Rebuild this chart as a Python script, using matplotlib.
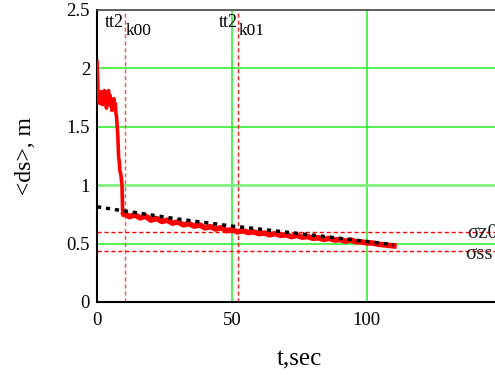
import numpy as np
import matplotlib
matplotlib.use("Agg")
import matplotlib.pyplot as plt

# measured <ds> (red), sampled every 0.25 s up to 9.75 s, then every 2 s
t_early = np.arange(0, 10, 0.25)
ds_early = [2.06, 1.88, 1.72, 1.80, 1.70, 1.78, 1.74, 1.80, 1.69, 1.78,
            1.72, 1.81, 1.70, 1.76, 1.66, 1.79, 1.71, 1.81, 1.70, 1.77,
            1.68, 1.74, 1.64, 1.72, 1.68, 1.74, 1.65, 1.70, 1.62, 1.58,
            1.50, 1.40, 1.24, 1.20, 1.12, 1.10, 1.06, 1.00, 0.76, 0.74]
t_late = np.arange(10, 111, 2)
ds_late = [0.76, 0.73, 0.745, 0.72, 0.735, 0.70, 0.715, 0.69, 0.70, 0.675,
           0.685, 0.66, 0.67, 0.65, 0.66, 0.635, 0.645, 0.625, 0.635, 0.61,
           0.62, 0.60, 0.61, 0.595, 0.60, 0.585, 0.59, 0.575, 0.585, 0.57,
           0.575, 0.56, 0.57, 0.555, 0.56, 0.545, 0.55, 0.535, 0.545, 0.53,
           0.535, 0.52, 0.53, 0.515, 0.515, 0.505, 0.505, 0.495, 0.49, 0.485,
           0.48]

# fitted trend (black dashed)
t_fit = [0, 10, 20, 30, 40, 50, 60, 70, 80, 90, 100, 110]
ds_fit = [0.815, 0.78, 0.745, 0.71, 0.68, 0.65, 0.625, 0.598, 0.572, 0.545, 0.518, 0.49]

# markers
tt2_k00 = 10.4
tt2_k01 = 52.3
sigma_z0 = 0.6
sigma_ss = 0.44

serif = "Liberation Serif"
grid_c = "#22ee22"

fig = plt.figure(figsize=(4.95, 3.75), dpi=100)
ax = fig.add_axes([0.196, 0.1947, 0.818, 0.7787])

ax.set_xlim(0, 150)
ax.set_ylim(0, 2.5)

for x in [50, 100]:
    ax.axvline(x, color=grid_c, lw=1.1, zorder=1)
for y in [0.5, 1.5, 2.0]:
    ax.axhline(y, color=grid_c, lw=1.1, zorder=1)
ax.axhline(1.0, color="#80f080", lw=2, zorder=1)

ax.axvline(tt2_k00, color="#ff5050", lw=1, ls=(0, (3, 2)), zorder=2)
ax.axvline(tt2_k01, color="#ff2020", lw=1, ls=(0, (3, 2)), zorder=2)
ax.axhline(sigma_z0, color="red", lw=1, ls=(0, (3, 2)), zorder=2)
ax.axhline(sigma_ss, color="red", lw=1, ls=(0, (3, 2)), zorder=2)

t_all = np.concatenate([t_early, t_late])
ds_all = list(ds_early) + list(ds_late)
ax.plot(t_all, ds_all, color="red", lw=2.6, zorder=3)
ax.plot(t_late, ds_late, color="red", lw=4, zorder=3)
ax.plot(t_fit, ds_fit, color="black", lw=2.5, ls=(0, (1.2, 1.4)), zorder=4)

ax.set_xticks([0, 50, 100])
ax.set_yticks([0, 0.5, 1, 1.5, 2, 2.5])
ax.set_yticklabels(["0", "0.5", "1", "1.5", "2", "2.5"])
ax.tick_params(length=0, labelsize=13.5, pad=5)
for lab in ax.get_xticklabels() + ax.get_yticklabels():
    lab.set_family(serif)
ax.tick_params(axis="x", pad=7)

for s in ["left", "bottom"]:
    ax.spines[s].set_linewidth(1.5)
    ax.spines[s].set_color("black")
ax.spines["top"].set_color("#444444")
ax.spines["top"].set_linewidth(1.2)
ax.spines["right"].set_visible(False)

ax.set_xlabel("t,sec", family=serif, fontsize=18, labelpad=14)
ax.set_ylabel("<ds>, m", family=serif, fontsize=17, labelpad=22)

for xv, sub in [(tt2_k00, "k00"), (tt2_k01, "k01")]:
    ax.text(xv - 0.3, 2.355, "tt2", family=serif, fontsize=13, ha="right", va="baseline")
    ax.text(xv + 0.3, 2.29, sub, family=serif, fontsize=12.5, ha="left", va="baseline")

ax.text(137.3, sigma_z0 - 0.015, "σz0", family=serif, fontsize=15, va="center", color="#222222")
ax.text(136.3, sigma_ss - 0.035, "σss", family=serif, fontsize=15, va="center", color="#222222")

fig.savefig("out.png", dpi=100)
